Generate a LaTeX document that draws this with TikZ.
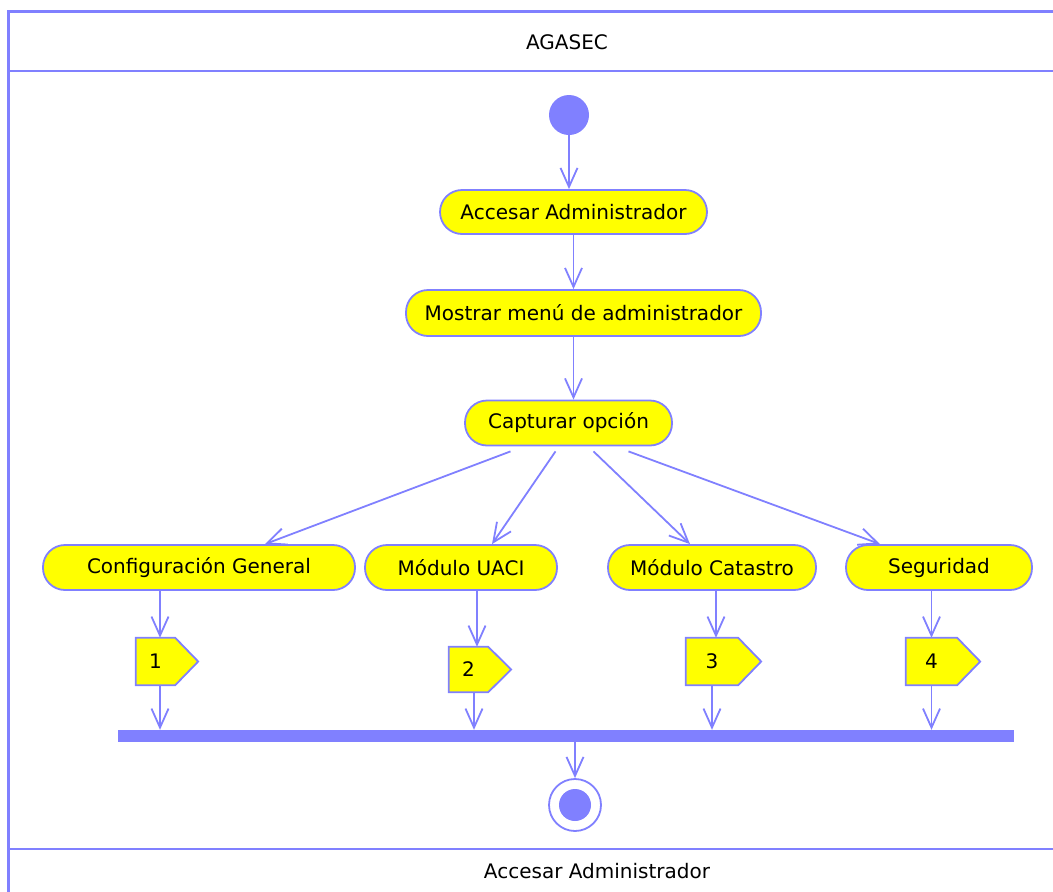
\documentclass[tikz,border=0pt]{standalone}
\usepackage{fontspec}
\setmainfont{DejaVu Sans}
\usetikzlibrary{calc,arrows.meta,backgrounds}
\definecolor{umlblue}{RGB}{128,128,255}
\definecolor{umlyellow}{RGB}{255,255,0}
\tikzset{
	act/.style={draw=umlblue, fill=umlyellow, line width=1.8pt, rounded corners=22pt, minimum height=45pt, inner sep=0pt},
	sigtext/.style={inner sep=0pt},
	flow/.style={draw=umlblue, line width=1.8pt, -{Straight Barb[length=19pt,width=17pt,line width=1.8pt]}},
	frame/.style={draw=umlblue, line width=2.2pt},
}
% pentagon of a send-signal action, drawn behind its text node
\def\sendsig(#1){\begin{pgfonlayer}{background}\draw[draw=umlblue, fill=umlyellow, line width=1.8pt, line join=miter] (#1.north west) -- (#1.north east) -- ($(#1.east)+(23,0)$) -- (#1.south east) -- (#1.south west) -- cycle;\end{pgfonlayer}}

\begin{document}
\begin{tikzpicture}[x=1pt, y=-1pt, font=\fontsize{20}{24}\selectfont]
		%%%%% START %%%%%
		\useasboundingbox (0,0) rectangle (1053,892);
		\clip (0,0) rectangle (1053,892);
		
		\draw[frame] (8.5,900) -- (8.5,11.5) -- (1060,11.5);
		\draw[frame] (8.5,71) -- (1060,71);
		\draw[frame] (8.5,849) -- (1060,849);
		\node (title) at (567,42) {AGASEC};
		\node (footer) at (597,871) {Accesar Administrador};
		
		\node[circle, fill=umlblue, minimum size=40pt, inner sep=0pt] (start) at (569,115) {};
		
		\node[act, minimum width=267pt, minimum height=44pt] (acc) at (573.5,212) {Accesar Administrador};
		\node[act, minimum width=355pt, minimum height=46pt] (mos) at (583.5,313) {Mostrar menú de administrador};
		\node[act, minimum width=207pt] (cap) at (568.5,423) {Capturar opción};
		
		\draw[flow] (start.south) -- (start.south |- acc.north);
		\draw[flow] (acc.south) -- (acc.south |- mos.north);
		\draw[flow] (acc.south |- mos.south) -- (acc.south |- cap.north);
		
		\node[act, minimum width=312pt] (cfg) at (199,567.5) {Configuración General};
		\node[act, minimum width=192pt] (uaci) at (461,567.5) {Módulo UACI};
		\node[act, minimum width=208pt] (cat) at (712,567.5) {Módulo Catastro};
		\node[act, minimum width=186pt] (seg) at (939,567.5) {Seguridad};
		
		\draw[flow] ($(cap.south)+(-58,5)$) -- ($(cfg.north)+(66,0)$);
		\draw[flow] ($(cap.south)+(-13,5)$) -- ($(uaci.north)+(31,0)$);
		\draw[flow] ($(cap.south)+(25,5)$) -- ($(cat.north)+(-22,0)$);
		\draw[flow] ($(cap.south)+(60,5)$) -- ($(seg.north)+(-59,0)$);
		
		% send signal actions
		\node[sigtext, minimum width=39pt, minimum height=47pt] (s1) at (155.5,661.5) {1};
		\node[sigtext, minimum width=39pt, minimum height=45pt] (s2) at (468.5,669.5) {2};
		\node[sigtext, minimum width=52pt, minimum height=47pt] (s3) at (712,661.5) {3};
		\node[sigtext, minimum width=51pt, minimum height=47pt] (s4) at (931.5,661.5) {4};
		\sendsig(s1)
		\sendsig(s2)
		\sendsig(s3)
		\sendsig(s4)
		
		\draw[flow] ([xshift=4.5pt]s1.north |- cfg.south) -- ([xshift=4.5pt]s1.north);
		\draw[flow] ([xshift=8.5pt]s2.north |- uaci.south) -- ([xshift=8.5pt]s2.north);
		\draw[flow] ([xshift=4pt]s3.north |- cat.south) -- ([xshift=4pt]s3.north);
		\draw[flow] (s4.north |- seg.south) -- (s4.north);
		
		\node[fill=umlblue, minimum width=896pt, minimum height=12pt, inner sep=0pt] (join) at (566,736) {};
		
		\draw[flow] ([xshift=4.5pt]s1.south) -- ([xshift=4.5pt]s1.south |- join.north);
		\draw[flow] ([xshift=5.5pt]s2.south) -- ([xshift=5.5pt]s2.south |- join.north);
		\draw[flow] (s3.south) -- (s3.south |- join.north);
		\draw[flow] (s4.south) -- (s4.south |- join.north);
		
		\node[circle, draw=umlblue, line width=1.8pt, minimum size=52pt, inner sep=0pt] (stop) at (575,805) {};
		\node[circle, fill=umlblue, minimum size=32pt, inner sep=0pt] (stopdot) at (stop) {};
		\draw[flow] (stop.north |- join.south) -- (stop.north);
		
		%%%%% END %%%%%
	\end{tikzpicture}
\end{document}
